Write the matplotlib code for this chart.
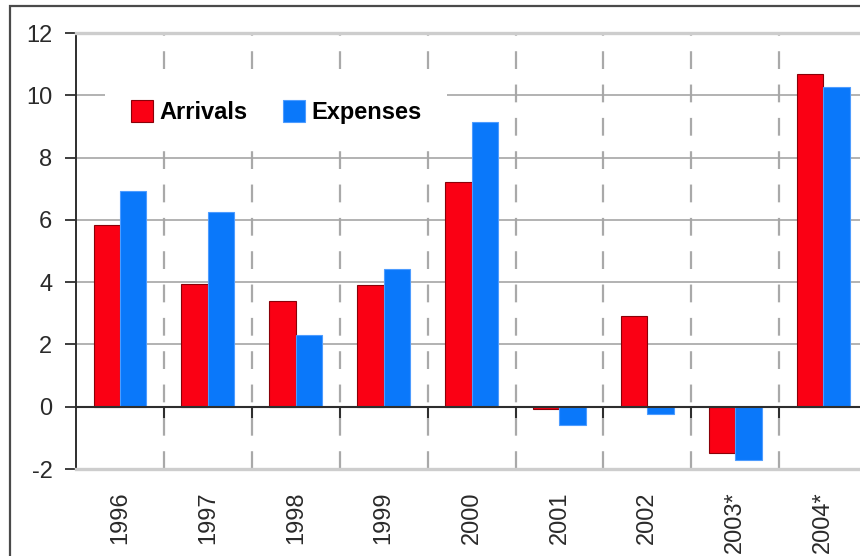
import numpy as np
import matplotlib
matplotlib.use('Agg')
from matplotlib import pyplot as plt
from matplotlib.patches import Rectangle

plt.rcParams['font.family'] = ['Liberation Sans', 'DejaVu Sans']
plt.rcParams['axes.unicode_minus'] = False

years = ['1996', '1997', '1998', '1999', '2000', '2001', '2002', '2003*', '2004*']
arrivals = [5.83, 3.94, 3.38, 3.90, 7.23, -0.08, 2.92, -1.50, 10.67]
expenses = [6.92, 6.25, 2.30, 4.43, 9.15, -0.60, -0.23, -1.70, 10.27]

red = '#fa0014'
blue = '#0a78fa'
grid_gray = '#a6a6a6'
dark = '#2e2e2e'

fig = plt.figure(figsize=(8.6, 5.56), dpi=100)
W, H = 860, 556
ax = fig.add_axes([76 / W, 1 - 469 / H, (W - 76) / W, 436 / H])

x = np.arange(len(years))
w = 0.3
ax.bar(x - w / 2, arrivals, w, color=red, edgecolor='#8a0008', linewidth=0.8,
       label='Arrivals', zorder=3)
ax.bar(x + w / 2, expenses, w, color=blue, edgecolor='#4d9cff', linewidth=0.8,
       label='Expenses', zorder=3)

ax.set_xlim(-0.5, -0.5 + (W - 76) / 87.9)
ax.set_ylim(-2, 12)

# y axis: ticks every 2 with solid horizontal grid
ax.set_yticks(range(-2, 13, 2))
ax.tick_params(axis='y', length=8, width=1.3, color=dark, pad=9,
               labelsize=17, labelcolor='#2a2a2a')
ax.grid(axis='y', which='major', color=grid_gray, linewidth=1.2, zorder=0)

# x axis: labels at category centres, dashed separators between categories
ax.set_xticks(x, years, rotation=90)
ax.set_xticks(x[:-1] + 0.5, minor=True)
ax.tick_params(axis='x', which='major', length=0, pad=16, labelsize=17,
               labelcolor='#2a2a2a')
ax.tick_params(axis='x', which='minor', length=0)
ax.grid(axis='x', which='minor', color='#a9a9a9', linewidth=1.6,
        linestyle=(0, (8, 7)), zorder=0)

for side in ['top', 'bottom']:
    ax.spines[side].set_color('#cdcdcd')
    ax.spines[side].set_linewidth(2.4)
ax.spines['right'].set_visible(False)
ax.spines['left'].set_color(dark)
ax.spines['left'].set_linewidth(1.4)

# zero line with short ticks at the category separators
ax.axhline(0, color=dark, linewidth=1.5, zorder=4)
zero = ax.secondary_xaxis(2 / 14)
zero.set_xticks(x[:-1] + 0.5, labels=[])
zero.tick_params(axis='x', direction='out', length=8, width=1.5, color=dark)
zero.spines['bottom'].set_visible(False)
zero.set_zorder(4)

leg = ax.legend(loc='center left', bbox_to_anchor=(105 / W, 1 - 112 / H),
                bbox_transform=fig.transFigure, ncol=2, frameon=True,
                facecolor='white', edgecolor='none', framealpha=1,
                borderaxespad=0, borderpad=1.1, handlelength=0.95,
                handleheight=1.05, handletextpad=0.25, columnspacing=1.5,
                prop={'size': 17, 'weight': 'bold'})
leg.get_frame().set_linewidth(0)
leg.set_zorder(5)

# thin frame around the whole chart
fig.patches.append(Rectangle((9.5 / W, -0.05), 1.2, 1.05 - 5.5 / H,
                             transform=fig.transFigure, fill=False,
                             edgecolor='#4a4a4a', linewidth=1.6))

fig.savefig('out.png', dpi=100)
